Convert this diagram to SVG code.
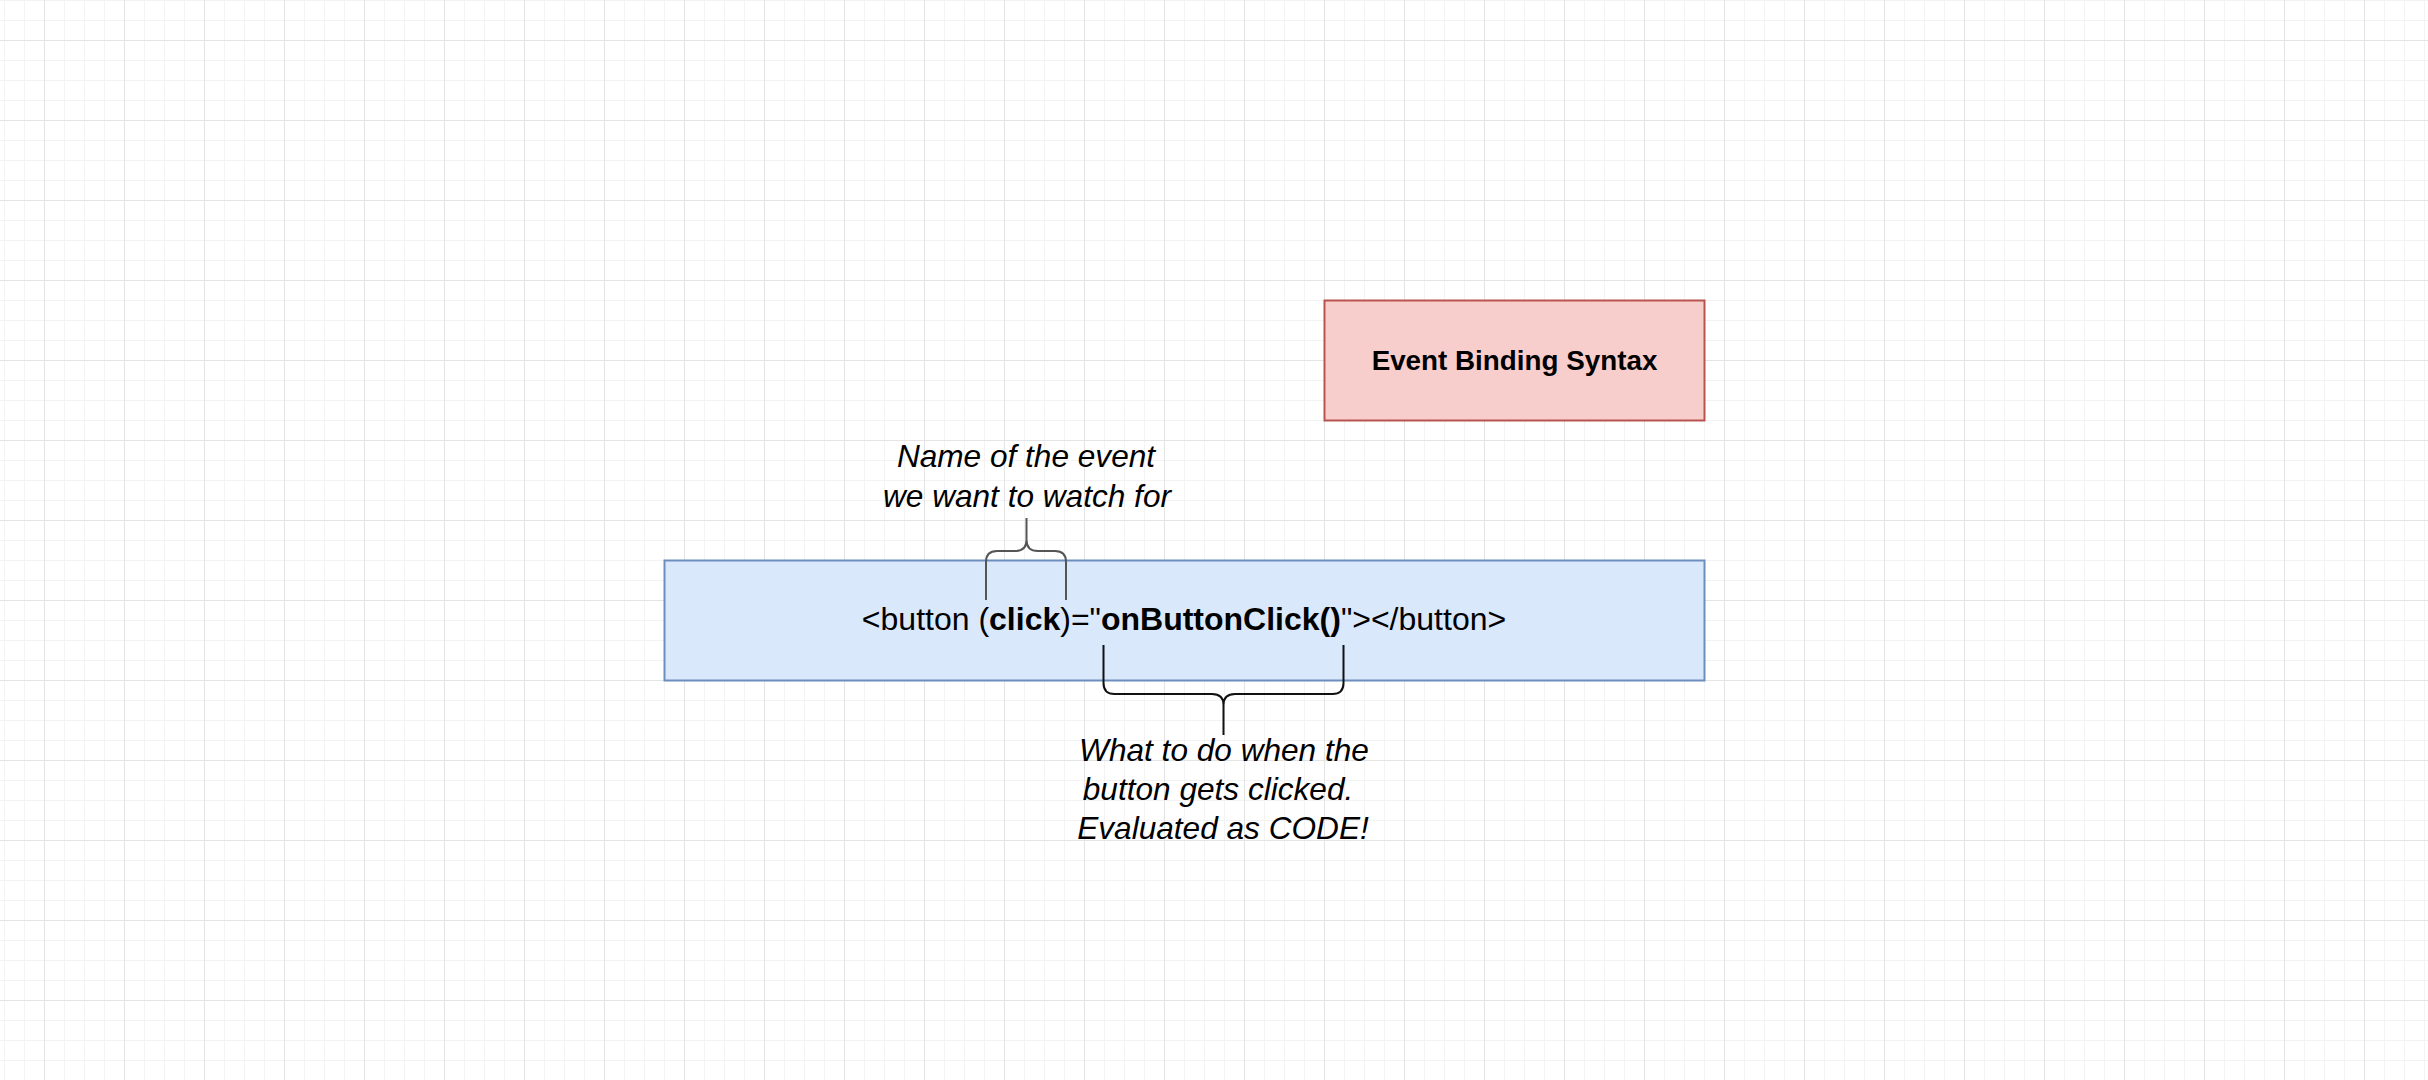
<svg xmlns="http://www.w3.org/2000/svg" width="2428" height="1080" viewBox="0 0 2428 1080">
  <style>
    .lbl { font-family: "Liberation Sans", Arial, Helvetica, sans-serif; fill: #000; }
    .title { font-size: 27.8px; font-weight: bold; text-anchor: middle; }
    .code { font-size: 32px; text-anchor: middle; }
    .note { font-size: 31.6px; font-style: italic; text-anchor: middle; }
    .brace { fill: none; stroke-linecap: butt; stroke-linejoin: round; }
  </style>
  <defs>
    <pattern id="grid" patternUnits="userSpaceOnUse" x="4" y="0" width="80" height="80">
      <rect x="0" y="0" width="80" height="80" fill="#ffffff"/>
      <g fill="#f3f3f3">
        <rect x="0" y="0" width="1" height="80"/>
        <rect x="20" y="0" width="1" height="80"/>
        <rect x="60" y="0" width="1" height="80"/>
        <rect x="0" y="0" width="80" height="1"/>
        <rect x="0" y="20" width="80" height="1"/>
        <rect x="0" y="60" width="80" height="1"/>
      </g>
      <g fill="#e4e4e4">
        <rect x="40" y="0" width="1" height="80"/>
        <rect x="0" y="40" width="80" height="1"/>
      </g>
    </pattern>
  </defs>
  <rect x="0" y="0" width="2428" height="1080" fill="url(#grid)"/>

  <g id="title-node">
    <rect x="1324.5" y="300.5" width="380" height="120" fill="#f8cecc" stroke="#b85450" stroke-width="2"/>
    <text class="lbl title" x="1514.5" y="369.5">Event Binding Syntax</text>
  </g>

  <g id="code-node">
    <rect x="664.5" y="560.5" width="1040" height="120" fill="#dae8fc" stroke="#6c8ebf" stroke-width="2"/>
    <text class="lbl code" x="1184" y="630">&lt;button (<tspan font-weight="bold">click</tspan>)="<tspan font-weight="bold">onButtonClick()</tspan>"&gt;&lt;/button&gt;</text>
  </g>

  <g id="event-brace">
    <path class="brace" stroke="#555555" stroke-width="2" d="M986,600 L986,562 Q986,551 997,551 L1015,551 Q1026.5,551 1026.5,540 L1026.5,518 M1026.5,540 Q1026.5,551 1038,551 L1055,551 Q1066,551 1066,562 L1066,600"/>
  </g>

  <g id="event-note">
    <text class="lbl note" x="1026" y="467">Name of the event</text>
    <text class="lbl note" x="1027" y="507">we want to watch for</text>
  </g>

  <g id="handler-brace">
    <path class="brace" stroke="#111111" stroke-width="2" d="M1103.5,645 L1103.5,683 Q1103.5,694 1114.5,694 L1212,694 Q1223.5,694 1223.5,705 L1223.5,735 M1223.5,705 Q1223.5,694 1235,694 L1332.5,694 Q1343.5,694 1343.5,683 L1343.5,645"/>
  </g>

  <g id="handler-note">
    <text class="lbl note" x="1224" y="761">What to do when the</text>
    <text class="lbl note" x="1218" y="800">button gets clicked.</text>
    <text class="lbl note" x="1223" y="839">Evaluated as CODE!</text>
  </g>

  <g id="connectors"></g>
</svg>
